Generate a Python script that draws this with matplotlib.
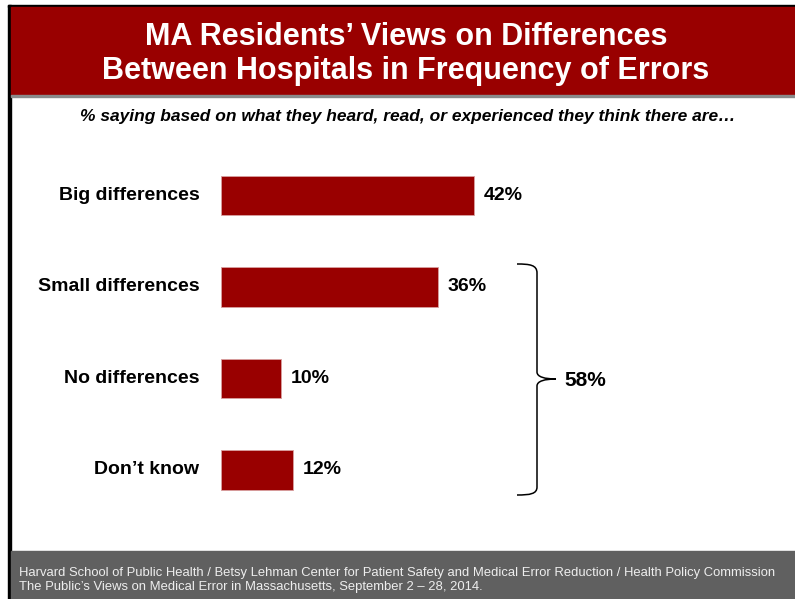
import matplotlib
matplotlib.use("Agg")
import matplotlib.pyplot as plt
from matplotlib.patches import Rectangle, PathPatch
from matplotlib.path import Path

categories = ["Big differences", "Small differences", "No differences", "Don\u2019t know"]
values = [42, 36, 10, 12]
bracket_label = "58%"

title = "MA Residents\u2019 Views on Differences\nBetween Hospitals in Frequency of Errors"
subtitle = "% saying based on what they heard, read, or experienced they think there are\u2026"
footer = ("Harvard School of Public Health / Betsy Lehman Center for Patient Safety and Medical Error Reduction / Health Policy Commission\n"
          "The Public\u2019s Views on Medical Error in Massachusetts, September 2 \u2013 28, 2014.")

W, H = 795, 599
RED = "#990000"

plt.rcParams['font.family'] = ['Liberation Sans', 'DejaVu Sans']

fig = plt.figure(figsize=(W / 100, H / 100), dpi=100)


def fx(px):
    return px / W


def fy(py):
    # pixels measured from top
    return 1 - py / H


# frame lines and banners
fig.patches.append(Rectangle((fx(8), 0), fx(3), fy(5), transform=fig.transFigure, color="black", zorder=1))
fig.patches.append(Rectangle((fx(8), fy(7)), 1, 2 / H, transform=fig.transFigure, color="black", zorder=1))
fig.patches.append(Rectangle((fx(11), fy(95)), 1, 88 / H, transform=fig.transFigure, color=RED, zorder=1))
fig.patches.append(Rectangle((fx(11), fy(97)), 1, 2 / H, transform=fig.transFigure, color="#8a8a8a", zorder=1))
fig.patches.append(Rectangle((fx(11), 0), 1, 48 / H, transform=fig.transFigure, color="#606060", zorder=1))

fig.text(fx(406), fy(54), title, ha="center", va="center", color="white",
         fontsize=22, fontweight="bold", linespacing=1.2)
fig.text(fx(408), fy(116), subtitle, ha="center", va="center", color="black",
         fontsize=12.5, fontweight="bold", style="italic")
fig.text(fx(19), fy(580), footer, ha="left", va="center", color="#eeeeee",
         fontsize=9.4, linespacing=1.25)

# bar axes
ax = fig.add_axes([fx(221), 1 - 515 / H, 60 * 6.03 / W, 365 / H])
ypos = list(range(len(categories)))
ax.barh(ypos, values, height=0.43, color=RED, edgecolor="#d9a0a0", linewidth=0.6)
ax.set_xlim(0, 60)
ax.set_ylim(3 + 45 / 91.5, -45.5 / 91.5)
ax.axis("off")

for y, v, c in zip(ypos, values, categories):
    ax.text(v + 1.5, y, f"{v}%", ha="left", va="center", fontsize=14, fontweight="bold")
    ax.text(-3.6, y, c, ha="right", va="center", fontsize=14, fontweight="bold")

# bracket for the last three rows
pts = [(517, 264), (530, 264), (537, 265), (537, 273),
       (537, 372),
       (537, 377), (545, 379), (556, 379),
       (545, 379), (537, 381), (537, 386),
       (537, 487),
       (537, 494), (530, 495), (517, 495)]
codes = [Path.MOVETO, Path.CURVE4, Path.CURVE4, Path.CURVE4,
         Path.LINETO,
         Path.CURVE4, Path.CURVE4, Path.CURVE4,
         Path.CURVE4, Path.CURVE4, Path.CURVE4,
         Path.LINETO,
         Path.CURVE4, Path.CURVE4, Path.CURVE4]
brace = Path([(fx(x), fy(y)) for x, y in pts], codes)
fig.patches.append(PathPatch(brace, transform=fig.transFigure, fill=False, lw=1.1, ec="black"))
fig.text(fx(564), fy(380), bracket_label, ha="left", va="center", fontsize=15, fontweight="bold")

fig.savefig("out.png", dpi=100)
